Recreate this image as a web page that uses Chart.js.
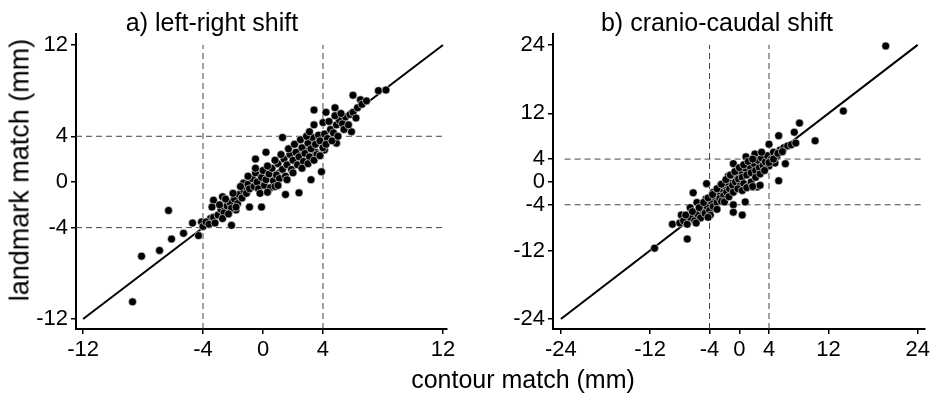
<!DOCTYPE html>
<html>
<head>
<meta charset="utf-8">
<script src="https://cdn.jsdelivr.net/npm/chart.js@4.4.0/dist/chart.umd.min.js"></script>
<style>
  html, body { margin: 0; padding: 0; background: #fff; }
  #wrap { position: relative; width: 933px; height: 395px; overflow: hidden;
          font-family: "Liberation Sans", Arial, sans-serif; color: #000; }
  canvas { position: absolute; top: 0; }
  .title { position: absolute; font-size: 25px; line-height: 25px; white-space: nowrap;
           transform: translateX(-50%); }
  #ytitle { position: absolute; left: 20px; top: 170px; font-size: 27px; line-height: 27px;
            white-space: nowrap; transform: translate(-50%, -50%) rotate(-90deg); }
</style>
</head>
<body>
<div id="wrap">
  <canvas id="lrChart" width="466" height="395" style="left:0px"></canvas>
  <canvas id="ccChart" width="467" height="395" style="left:466px"></canvas>
  <div class="title" style="left:212px; top:10px">a) left-right shift</div>
  <div class="title" style="left:717px; top:10px">b) cranio-caudal shift</div>
  <div class="title" style="left:523px; top:367px">contour match (mm)</div>
  <div id="ytitle">landmark match (mm)</div>
</div>
<script>
// tick values
const lrTicks = [-12, -4, 0, 4, 12];
const ccTicks = [-24, -12, -4, 0, 4, 12, 24];
const refValues = [-4, 4];

// axis limits
const lrLimits = { xMin: -12.47, xMax: 12.27, yMin: -12.88, yMax: 12.96 };
const ccLimits = { xMin: -25.06, xMax: 24.9, yMin: -25.75, yMax: 25.9 };

// a) left-right shift: [contour match, landmark match] in mm
const lrPoints = [
  [-8.7, -10.5], [-8.1, -6.5], [-6.9, -6.0], [-6.3, -2.5], [-6.1, -5.0], [-5.3, -4.5],
  [-4.7, -3.6], [-4.3, -4.7], [-4.1, -3.5], [-3.5, -3.2], [-3.3, -1.6], [-3.4, -2.2],
  [-2.7, -1.3], [-2.1, -3.8], [-1.8, -2.45], [-0.9, -2.2], [-0.1, -2.2], [-1.3, -0.1],
  [-0.5, 2.0], [0.2, 2.6], [1.3, 3.9], [1.5, -1.1], [2.4, -0.95], [3.2, 0.2], [3.9, 0.9],
  [3.5, 2.6], [4.1, 2.8], [3.4, 5.0], [4.0, 5.2], [3.4, 6.3], [4.2, 6.1], [4.8, 6.5],
  [4.9, 3.4], [5.9, 4.4], [6.0, 7.6], [6.5, 7.2], [7.7, 8.0], [8.2, 8.05],
  [-4.0, -3.9], [-3.8, -3.5], [-3.6, -3.7], [-3.3, -3.1], [-3.0, -2.9], [-2.8, -2.4],
  [-2.6, -2.7], [-2.4, -2.1], [-2.2, -1.8], [-2.1, -2.3], [-1.9, -1.5], [-1.7, -1.9],
  [-1.6, -1.1], [-1.4, -1.4], [-1.3, -0.7], [-1.1, -1.0], [-1.0, -0.2], [-0.9, -0.6],
  [-0.7, 0.3], [-0.6, -0.4], [-0.5, 0.8], [-0.4, 0.0], [-0.3, -0.6], [-0.1, 0.4],
  [0.0, 1.0], [0.1, -0.3], [0.2, 0.2], [0.4, 0.7], [0.5, -0.5], [0.6, 1.2], [0.7, 0.1],
  [0.8, -0.4], [0.9, 0.6], [1.0, 1.6], [1.1, 0.3], [1.3, 1.1], [1.4, 2.0], [1.5, 0.5],
  [1.6, 1.5], [1.8, 2.4], [1.9, 1.1], [2.0, 1.9], [2.2, 2.6], [2.3, 1.5], [2.4, 2.2],
  [2.6, 3.0], [2.7, 1.8], [2.8, 2.5], [3.0, 3.4], [3.1, 2.2], [3.2, 2.9], [3.3, 3.9],
  [3.5, 3.3], [3.6, 2.4], [3.7, 4.1], [3.8, 3.6], [4.0, 3.0], [4.1, 4.2], [4.3, 3.8],
  [4.5, 4.6], [4.7, 4.3], [4.9, 5.0], [5.1, 5.4], [5.3, 5.1], [5.5, 5.7], [5.8, 5.9],
  [6.0, 6.1], [6.3, 6.5], [6.6, 6.8], [6.9, 7.1],
  [-2.9, -2.0], [-2.5, -1.5], [-2.0, -1.0], [-1.5, -0.4], [-1.0, 0.5], [-0.5, 1.2],
  [0.3, 1.4], [0.8, 1.9], [1.2, 2.4], [1.7, 2.9], [2.1, 3.3], [2.5, 3.7], [2.9, 4.0],
  [3.1, 4.4], [-0.2, -1.0], [0.3, -0.9], [1.0, -0.3], [1.6, 0.2], [2.0, 0.8], [2.6, 1.2],
  [3.0, 1.6], [3.4, 1.9], [3.8, 2.3], [4.2, 3.3], [4.6, 3.6], [5.0, 4.0], [5.4, 4.6],
  [5.7, 5.0], [6.2, 5.6], [4.4, 5.3], [4.8, 5.8], [5.2, 6.0], [-3.2, -3.6], [-2.7, -3.2],
  [-2.3, -2.8], [-1.8, -2.2]
];

// b) cranio-caudal shift: [contour match, landmark match] in mm
const ccPoints = [
  [19.7, 23.8], [14.0, 12.4], [10.2, 7.2], [8.1, 10.3], [7.4, 8.7], [5.3, 8.1],
  [6.2, 3.2], [5.3, 0.2], [4.0, 6.6], [2.1, 4.9], [0.9, 4.4], [-0.8, 3.2], [-4.4, -0.3],
  [-6.2, -1.9], [-5.7, -3.6], [-6.6, -4.5], [-7.8, -5.8], [-9.0, -7.4], [-7.0, -10.0],
  [-11.4, -11.6], [-0.8, -4.0], [-0.8, -5.3], [0.4, -5.8], [0.8, -3.5], [2.4, -0.9],
  [-8.0, -7.2], [-7.5, -6.8], [-7.0, -7.4], [-6.6, -6.2], [-6.0, -6.8], [-5.6, -5.6],
  [-5.2, -6.3], [-5.0, -4.8], [-4.6, -5.5], [-4.4, -4.2], [-4.0, -5.0], [-3.8, -3.4],
  [-3.5, -4.3], [-3.3, -2.6], [-3.0, -3.6], [-2.8, -1.9], [-2.6, -2.9], [-2.3, -1.3],
  [-2.1, -2.4], [-1.9, -0.7], [-1.7, -1.8], [-1.5, -0.2], [-1.3, -1.2], [-1.1, 0.4],
  [-0.9, -0.6], [-0.7, 1.0], [-0.5, 0.0], [-0.3, 1.5], [-0.1, 0.5], [0.1, -0.7],
  [0.2, 1.9], [0.4, 0.8], [0.6, -0.3], [0.8, 2.4], [1.0, 1.2], [1.2, -0.8], [1.4, 2.8],
  [1.6, 1.6], [1.8, -0.9], [2.0, 3.2], [2.2, 2.0], [2.5, 3.8], [2.7, 2.5], [3.0, 4.2],
  [3.2, 2.9], [3.5, 3.5], [3.8, 4.6], [4.0, 2.8], [4.3, 4.0], [4.6, 5.2], [4.8, 3.3],
  [5.1, 4.6], [5.5, 5.6], [6.0, 6.0], [6.5, 6.3], [7.0, 6.5], [7.6, 6.8],
  [-4.5, -3.0], [-3.5, -1.8], [-2.5, -0.5], [-1.5, 1.0], [-3.9, -5.8], [-2.4, -3.4],
  [-7.2, -5.8], [-6.3, -5.2], [-5.4, -4.5], [-4.8, -3.6], [-4.2, -2.8], [-3.6, -2.2],
  [-3.0, -1.2], [-2.4, -0.4], [-1.8, 0.4], [-1.2, 1.2], [-0.6, 1.8], [0.0, 2.5],
  [0.6, 3.0], [1.2, 3.6], [1.8, 4.0], [-2.0, -3.5], [-1.4, -2.6], [-0.8, -1.8],
  [-0.2, -1.2], [0.4, -1.5], [1.0, -1.0], [1.6, 0.0], [2.2, 0.8], [2.8, 1.4], [3.4, 2.0],
  [4.0, 3.4], [4.6, 4.0], [5.2, 5.0], [5.8, 5.3], [3.0, 5.2], [-5.8, -7.2], [-4.2, -6.2],
  [-3.0, -4.8], [1.8, -0.8], [2.8, -0.6]
];

const FONT = "'Liberation Sans', Arial, sans-serif";

function makeChart(canvasId, points, ticks, lim, lineEnd, hFrom, hTo, yAxisWidth, padRight) {
  const ctx = document.getElementById(canvasId).getContext('2d');

  const refSets = [];
  refValues.forEach(v => {
    refSets.push([{ x: v, y: lim.yMin }, { x: v, y: lineEnd }]);
    refSets.push([{ x: hFrom, y: v }, { x: hTo, y: v }]);
  });

  const datasets = [
    {
      data: points.map(p => ({ x: p[0], y: p[1] })),
      pointRadius: 4,
      pointBackgroundColor: '#000',
      pointBorderColor: 'rgba(255,255,255,0.7)',
      pointBorderWidth: 0.8,
      showLine: false,
      order: 0
    },
    {
      data: [{ x: ticks[0], y: ticks[0] }, { x: lineEnd, y: lineEnd }],
      showLine: true,
      borderColor: '#000',
      borderWidth: 2,
      pointRadius: 0,
      order: 1
    }
  ];
  refSets.forEach(d => datasets.push({
    data: d,
    showLine: true,
    borderColor: '#444',
    borderWidth: 1,
    borderDash: [6, 4],
    pointRadius: 0,
    order: 2
  }));

  const axis = (min, max) => ({
    type: 'linear',
    min: min,
    max: max,
    afterBuildTicks: s => { s.ticks = ticks.map(v => ({ value: v })); },
    ticks: {
      font: { family: FONT, size: 22 },
      color: '#000',
      autoSkip: false,
      maxRotation: 0,
      padding: 3
    },
    grid: { drawOnChartArea: false, drawTicks: true, tickLength: 5, color: '#000', lineWidth: 1.5 },
    border: { display: true, color: '#000', width: 2 }
  });

  const xAxis = axis(lim.xMin, lim.xMax);
  xAxis.afterFit = s => { s.height = 395 - 329; };
  const yAxis = axis(lim.yMin, lim.yMax);
  yAxis.afterFit = s => { s.width = yAxisWidth; };

  return new Chart(ctx, {
    type: 'scatter',
    data: { datasets: datasets },
    options: {
      responsive: false,
      animation: false,
      layout: { padding: { top: 34, right: padRight, left: 0, bottom: 0 } },
      plugins: { legend: { display: false }, tooltip: { enabled: false } },
      scales: { x: xAxis, y: yAxis }
    }
  });
}

makeChart('lrChart', lrPoints, lrTicks, lrLimits, 12, lrLimits.xMin, 12, 76, 19);
makeChart('ccChart', ccPoints, ccTicks, ccLimits, 24, -23.5, ccLimits.xMax, 87, 2);
</script>
</body>
</html>
